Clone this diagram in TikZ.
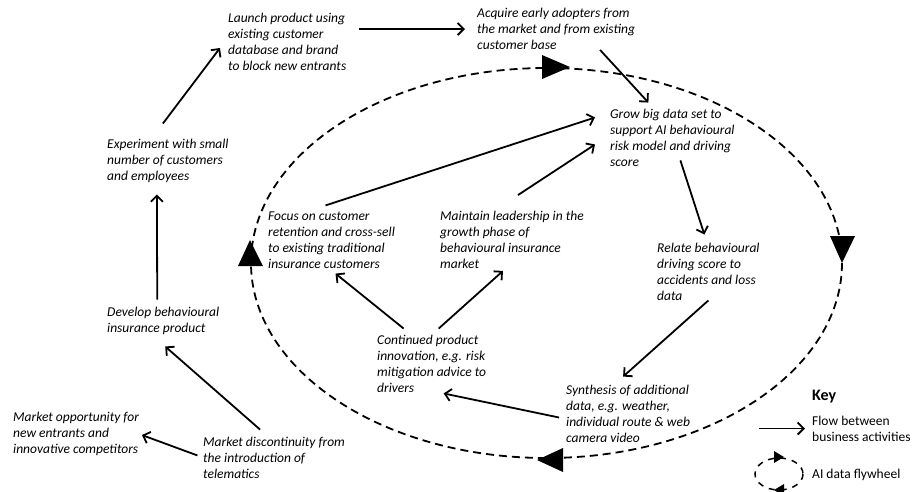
\documentclass[tikz,border=0pt]{standalone}
\usepackage{fontspec}
\setmainfont{Carlito}
\usetikzlibrary{arrows.meta}

\begin{document}
\begin{tikzpicture}[x=1pt,y=-1pt,
	act/.style={anchor=west,align=left,inner sep=0pt,font=\itshape\fontsize{13.5}{16}\selectfont},
	keytext/.style={anchor=west,align=left,inner sep=0pt,font=\fontsize{13.5}{16}\selectfont},
	flow/.style={-{Straight Barb[length=6pt,width=12pt]},line width=1.8pt},
	wheel/.style={dash pattern=on 8pt off 5pt,line width=1.8pt}]
	\useasboundingbox (0,0) rectangle (914,491);

	%AI data flywheel
	\draw[wheel] (546.5,263) ellipse (295.5 and 195);
	\fill (570,67)--(542,55)--(542,79)--cycle;		%top
	\fill (842,263)--(830,236)--(855,236)--cycle;	%right
	\fill (537,460)--(563,448)--(563,472)--cycle;	%bottom
	\fill (250,240)--(238,266)--(263,266)--cycle;	%left

	%activities
	\node[act] (launch) at (228,42) {Launch product using\\existing customer\\database and brand\\to block new entrants};
	\node[act] (acquire) at (477,29) {Acquire early adopters from\\the market and from existing\\customer base};
	\node[act] (experiment) at (107,160.5) {Experiment with small\\number of customers\\and employees};
	\node[act] (grow) at (610,137.5) {Grow big data set to\\support AI behavioural\\risk model and driving\\score};
	\node[act] (focus) at (268,240) {Focus on customer\\retention and cross-sell\\to existing traditional\\insurance customers};
	\node[act] (maintain) at (440,240) {Maintain leadership in the\\growth phase of\\behavioural insurance\\market};
	\node[act] (relate) at (657,271.5) {Relate behavioural\\driving score to\\accidents and loss\\data};
	\node[act] (develop) at (107,320.5) {Develop behavioural\\insurance product};
	\node[act] (continued) at (377,363.5) {Continued product\\innovation, e.g. risk\\mitigation advice to\\drivers};
	\node[act] (synthesis) at (566,413.5) {Synthesis of additional\\data, e.g. weather,\\individual route \& web\\camera video};
	\node[act] (discont) at (203,457.5) {Market discontinuity from\\the introduction of\\telematics};
	\node[act] (opportunity) at (13,434) {Market opportunity for\\new entrants and\\innovative competitors};

	%flows
	\draw[flow,shorten <=6pt,shorten >=3pt] (discont.west) -- (opportunity.east);
	\draw[flow] ([xshift=-14pt,yshift=7pt]discont.north) -- ([xshift=2pt,yshift=-12pt]develop.south);
	\draw[flow] ([xshift=-6pt,yshift=7pt]develop.north) -- ([xshift=-11pt,yshift=-12pt]experiment.south);
	\draw[flow] ([xshift=-5pt,yshift=15pt]experiment.north) -- ([xshift=-8pt,yshift=-6pt]launch.west);
	\draw[flow,shorten <=13pt,shorten >=12pt] (launch.east |- acquire.west) -- (acquire.west);
	\draw[flow] ([xshift=44pt]acquire.south) -- ([xshift=-24pt,yshift=6pt]grow.north);
	\draw[flow] ([xshift=-6pt,yshift=6pt]focus.north) -- ([xshift=-15pt,yshift=20pt]grow.west);
	\draw[flow] ([xshift=6pt,yshift=16pt]maintain.north) -- ([xshift=-15pt,yshift=-7pt]grow.west);
	\draw[flow] ([xshift=8pt,yshift=6pt]grow.south) -- ([xshift=-4pt,yshift=8pt]relate.north);
	\draw[flow] (relate.south) -- ([xshift=-5pt,yshift=8pt]synthesis.north);
	\draw[flow] ([xshift=-7pt,yshift=-4pt]synthesis.west) -- ([xshift=12pt,yshift=-1pt]continued.south);
	\draw[flow] ([xshift=-28pt,yshift=6pt]continued.north) -- ([xshift=4pt,yshift=-5pt]focus.south);
	\draw[flow] ([xshift=7pt,yshift=6pt]continued.north) -- ([xshift=-9pt,yshift=-2pt]maintain.south);

	%key
	\node[keytext,font=\bfseries\fontsize{16}{19}\selectfont] (key) at (812,397) {Key};
	\node[keytext] (flowkey) at (812,428.5) {Flow between\\business activities};
	\node[keytext] (wheelkey) at (812,475) {AI data flywheel};
	\draw[flow] ([xshift=-53pt]flowkey.west) -- ([xshift=-7pt]flowkey.west);
	\draw[wheel,dash pattern=on 6pt off 6pt,line width=1.5pt] (779,474) ellipse (24 and 16);
	\fill (784,457)--(774,451)--(774,463)--cycle;
	\fill (774,490)--(784,484)--(784,496)--cycle;
\end{tikzpicture}
\end{document}
